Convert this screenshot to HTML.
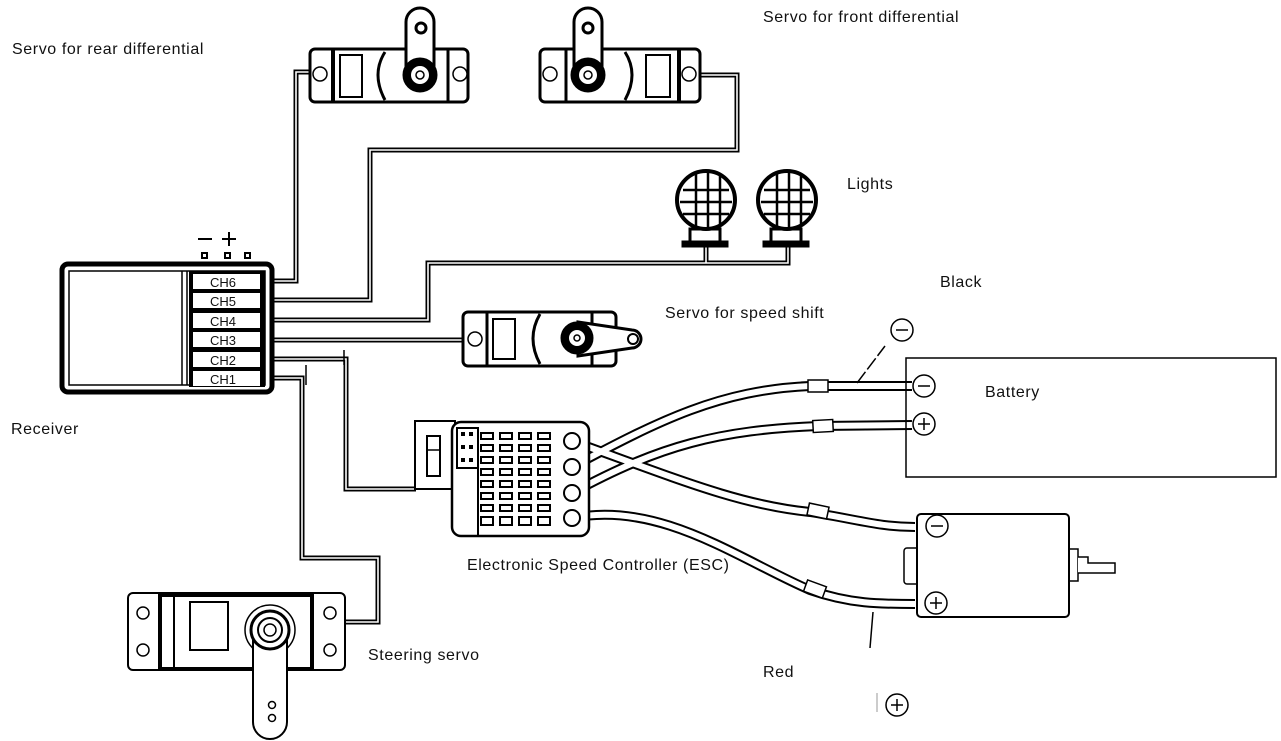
<!DOCTYPE html>
<html><head><meta charset="utf-8"><style>
html,body{margin:0;padding:0;background:#fff;}
svg{display:block;}
text{font-family:"Liberation Sans",sans-serif;font-size:16px;letter-spacing:0.6px;fill:#111;}
</style></head><body>
<svg width="1281" height="741" viewBox="0 0 1281 741" xmlns="http://www.w3.org/2000/svg">
<!-- Labels -->
<text x="12" y="54">Servo for rear differential</text>
<text x="763" y="22">Servo for front differential</text>
<text x="847" y="189">Lights</text>
<text x="940" y="287">Black</text>
<text x="665" y="318">Servo for speed shift</text>
<text x="985" y="397">Battery</text>
<text x="11" y="434">Receiver</text>
<text x="467" y="570">Electronic Speed Controller (ESC)</text>
<text x="966" y="571" style="font-weight:bold;font-style:italic;letter-spacing:0">Motor</text>
<text x="368" y="660">Steering servo</text>
<text x="763" y="677">Red</text>

<!-- Signal wires (double lines) -->
<g fill="none" stroke-linejoin="miter">
<g stroke="#000" stroke-width="5">
<polyline points="262,281 296,281 296,72 318,72"/>
<polyline points="262,300 370,300 370,150 737,150 737,75 692,75"/>
<polyline points="262,320 428,320 428,263 788,263 788,242"/>
<polyline points="706,263 706,246"/>
<polyline points="262,340 482,340"/>
<polyline points="262,359 346,359 346,489 416,489"/>
<polyline points="262,378 302,378 302,558 378,558 378,622 346,622"/>
</g>
<g stroke="#fff" stroke-width="1.6">
<polyline points="262,281 296,281 296,72 318,72"/>
<polyline points="262,300 370,300 370,150 737,150 737,75 692,75"/>
<polyline points="262,320 428,320 428,263 788,263 788,242"/>
<polyline points="706,263 706,246"/>
<polyline points="262,340 482,340"/>
<polyline points="262,359 346,359 346,489 416,489"/>
<polyline points="262,378 302,378 302,558 378,558 378,622 346,622"/>
</g>
<line x1="344" y1="350" x2="344" y2="365" stroke="#000" stroke-width="1.5"/>
<line x1="306" y1="365" x2="306" y2="385" stroke="#000" stroke-width="1.5"/>
</g>

<!-- Receiver -->
<rect x="62" y="264" width="210" height="128" rx="6" fill="#fff" stroke="#000" stroke-width="5"/>
<rect x="69" y="271" width="196" height="114" fill="none" stroke="#000" stroke-width="1.5"/>
<line x1="182" y1="271" x2="182" y2="385" stroke="#000" stroke-width="1.5"/>
<line x1="187" y1="271" x2="187" y2="385" stroke="#000" stroke-width="1.5"/>
<rect x="189" y="271" width="76" height="116" fill="#000"/>
<g>
<rect x="193" y="274" width="67" height="15" fill="#fff"/><text x="210" y="287" style="font-size:13px;letter-spacing:0">CH6</text>
<rect x="193" y="293" width="67" height="15" fill="#fff"/><text x="210" y="306" style="font-size:13px;letter-spacing:0">CH5</text>
<rect x="193" y="313" width="67" height="15" fill="#fff"/><text x="210" y="326" style="font-size:13px;letter-spacing:0">CH4</text>
<rect x="193" y="332" width="67" height="15" fill="#fff"/><text x="210" y="345" style="font-size:13px;letter-spacing:0">CH3</text>
<rect x="193" y="352" width="67" height="15" fill="#fff"/><text x="210" y="365" style="font-size:13px;letter-spacing:0">CH2</text>
<rect x="193" y="371" width="67" height="15" fill="#fff"/><text x="210" y="384" style="font-size:13px;letter-spacing:0">CH1</text>
</g>
<line x1="198" y1="239" x2="212" y2="239" stroke="#000" stroke-width="2"/>
<line x1="222" y1="239" x2="236" y2="239" stroke="#000" stroke-width="2"/>
<line x1="229" y1="232" x2="229" y2="246" stroke="#000" stroke-width="2"/>
<rect x="202" y="253" width="5" height="5" fill="none" stroke="#000" stroke-width="2"/>
<rect x="225" y="253" width="5" height="5" fill="none" stroke="#000" stroke-width="2"/>
<rect x="245" y="253" width="5" height="5" fill="none" stroke="#000" stroke-width="2"/>

<!-- Rear servo -->
<g stroke="#000" fill="#fff">
<rect x="310" y="49" width="158" height="53" rx="5" stroke-width="3"/>
<line x1="333" y1="49" x2="333" y2="102" stroke-width="4"/>
<line x1="448" y1="49" x2="448" y2="102" stroke-width="3"/>
<rect x="340" y="55" width="22" height="42" stroke-width="2"/>
<path d="M385,52 q-14,22 0,48" fill="none" stroke-width="3"/>
<path d="M406,78 L406,22 a14,14 0 0 1 28,0 L434,78 Z" stroke-width="3"/>
<circle cx="420" cy="75" r="17" fill="#000"/>
<circle cx="420" cy="75" r="10" fill="#fff" stroke-width="2"/>
<circle cx="420" cy="75" r="4" fill="#fff" stroke-width="1.5"/>
<circle cx="421" cy="28" r="5" stroke-width="3"/>
<circle cx="320" cy="74" r="7" stroke-width="1.5"/>
<circle cx="460" cy="74" r="7" stroke-width="1.5"/>
</g>
<!-- Front servo -->
<g stroke="#000" fill="#fff">
<rect x="540" y="49" width="160" height="53" rx="5" stroke-width="3"/>
<line x1="566" y1="49" x2="566" y2="102" stroke-width="3"/>
<line x1="679" y1="49" x2="679" y2="102" stroke-width="4"/>
<rect x="646" y="55" width="24" height="42" stroke-width="2"/>
<path d="M625,52 q14,22 0,48" fill="none" stroke-width="3"/>
<path d="M574,78 L574,22 a14,14 0 0 1 28,0 L602,78 Z" stroke-width="3"/>
<circle cx="588" cy="75" r="17" fill="#000"/>
<circle cx="588" cy="75" r="10" fill="#fff" stroke-width="2"/>
<circle cx="588" cy="75" r="4" fill="#fff" stroke-width="1.5"/>
<circle cx="588" cy="28" r="5" stroke-width="3"/>
<circle cx="550" cy="74" r="7" stroke-width="1.5"/>
<circle cx="689" cy="74" r="7" stroke-width="1.5"/>
</g>

<!-- Lights -->
<g stroke="#000" fill="#fff">
<rect x="690" y="229" width="30" height="14" stroke-width="3"/>
<rect x="682" y="241" width="46" height="6" fill="#000" stroke-width="1"/>
<circle cx="706" cy="200" r="29" stroke-width="4"/>
<g stroke-width="2.5"><line x1="683" y1="190" x2="729" y2="190"/><line x1="680" y1="202" x2="732" y2="202"/><line x1="683" y1="214" x2="729" y2="214"/><line x1="696" y1="174" x2="696" y2="226"/><line x1="708" y1="172" x2="708" y2="228"/><line x1="720" y1="176" x2="720" y2="224"/></g>
<rect x="771" y="229" width="30" height="14" stroke-width="3"/>
<rect x="763" y="241" width="46" height="6" fill="#000" stroke-width="1"/>
<circle cx="787" cy="200" r="29" stroke-width="4"/>
<g stroke-width="2.5"><line x1="764" y1="190" x2="810" y2="190"/><line x1="761" y1="202" x2="813" y2="202"/><line x1="764" y1="214" x2="810" y2="214"/><line x1="777" y1="174" x2="777" y2="226"/><line x1="789" y1="172" x2="789" y2="228"/><line x1="801" y1="176" x2="801" y2="224"/></g>
</g>

<!-- Speed shift servo -->
<g stroke="#000" fill="#fff">
<rect x="463" y="312" width="153" height="54" rx="5" stroke-width="3"/>
<line x1="487" y1="312" x2="487" y2="366" stroke-width="3"/>
<line x1="592" y1="312" x2="592" y2="366" stroke-width="3"/>
<rect x="493" y="319" width="22" height="40" stroke-width="2"/>
<path d="M540,314 q-14,24 0,50" fill="none" stroke-width="3"/>
<path d="M578,322 L632,330 a9,9 0 0 1 0,18 L578,356 Z" stroke-width="3"/>
<circle cx="577" cy="338" r="16" fill="#000"/>
<circle cx="577" cy="338" r="9" fill="#fff" stroke-width="2"/>
<circle cx="577" cy="338" r="3" fill="#fff" stroke-width="1.5"/>
<circle cx="633" cy="339" r="5" stroke-width="2"/>
<circle cx="475" cy="339" r="7" stroke-width="1.5"/>
</g>

<!-- Steering servo -->
<g stroke="#000" fill="#fff">
<rect x="128" y="593" width="217" height="77" rx="5" stroke-width="2"/>
<rect x="160" y="595" width="152" height="74" stroke-width="4"/>
<line x1="174" y1="595" x2="174" y2="669" stroke-width="2"/>
<rect x="190" y="602" width="38" height="48" stroke-width="2"/>
<circle cx="143" cy="613" r="6" stroke-width="1.5"/><circle cx="143" cy="650" r="6" stroke-width="1.5"/>
<circle cx="330" cy="613" r="6" stroke-width="1.5"/><circle cx="330" cy="650" r="6" stroke-width="1.5"/>
<circle cx="270" cy="630" r="25" stroke-width="1.5"/>
<path d="M253,640 L253,722 a17,17 0 0 0 34,0 L287,640" stroke-width="2"/>
<circle cx="270" cy="630" r="19" stroke-width="3"/>
<circle cx="270" cy="630" r="12" stroke-width="2"/>
<circle cx="270" cy="630" r="6" stroke-width="1.5"/>
<circle cx="272" cy="705" r="3.5" stroke-width="1.5"/>
<circle cx="272" cy="718" r="3.5" stroke-width="1.5"/>
</g>

<!-- Power wires -->
<g fill="none">
<g stroke="#000" stroke-width="10">
<path d="M572,441 C680,480 740,505 810,512 C860,520 880,527 915,527"/>
<path d="M572,467 C660,420 720,390 810,386 L912,386"/>
<path d="M572,493 C660,445 720,430 818,426 L912,425"/>
<path d="M572,518 C660,500 740,560 810,590 C850,604 880,604 915,604"/>
</g>
<g stroke="#fff" stroke-width="6">
<path d="M572,441 C680,480 740,505 810,512 C860,520 880,527 915,527"/>
<path d="M572,467 C660,420 720,390 810,386 L912,386"/>
<path d="M572,493 C660,445 720,430 818,426 L912,425"/>
<path d="M572,518 C660,500 740,560 810,590 C850,604 880,604 915,604"/>
</g>
</g>
<g fill="#fff" stroke="#000" stroke-width="1.5">
<rect x="808" y="380" width="20" height="12"/>
<rect x="813" y="420" width="20" height="12" transform="rotate(-3 823 426)"/>
<rect x="808" y="505" width="20" height="12" transform="rotate(12 818 511)"/>
<rect x="805" y="583" width="20" height="12" transform="rotate(20 815 589)"/>
</g>

<!-- ESC -->
<g stroke="#000" fill="#fff">
<rect x="415" y="421" width="40" height="68" stroke-width="2"/>
<rect x="427" y="436" width="13" height="40" stroke-width="2"/>
<line x1="427" y1="450" x2="440" y2="450" stroke-width="1.5"/>
<rect x="452" y="422" width="137" height="114" rx="9" stroke-width="2.5"/>
<rect x="457" y="428" width="21" height="40" stroke-width="2"/>
<line x1="478" y1="428" x2="478" y2="536" stroke-width="2"/>
</g>
<g fill="#000">
<rect x="461" y="432" width="4" height="4"/><rect x="469" y="432" width="4" height="4"/>
<rect x="461" y="445" width="4" height="4"/><rect x="469" y="445" width="4" height="4"/>
<rect x="461" y="458" width="4" height="4"/><rect x="469" y="458" width="4" height="4"/>
</g>
<g fill="#fff" stroke="#000" stroke-width="2">
<rect x="481" y="433" width="12" height="6"/><rect x="500" y="433" width="12" height="6"/><rect x="519" y="433" width="12" height="6"/><rect x="538" y="433" width="12" height="6"/>
<rect x="481" y="445" width="12" height="6"/><rect x="500" y="445" width="12" height="6"/><rect x="519" y="445" width="12" height="6"/><rect x="538" y="445" width="12" height="6"/>
<rect x="481" y="457" width="12" height="6"/><rect x="500" y="457" width="12" height="6"/><rect x="519" y="457" width="12" height="6"/><rect x="538" y="457" width="12" height="6"/>
<rect x="481" y="469" width="12" height="6"/><rect x="500" y="469" width="12" height="6"/><rect x="519" y="469" width="12" height="6"/><rect x="538" y="469" width="12" height="6"/>
<rect x="481" y="481" width="12" height="6"/><rect x="500" y="481" width="12" height="6"/><rect x="519" y="481" width="12" height="6"/><rect x="538" y="481" width="12" height="6"/>
<rect x="481" y="493" width="12" height="6"/><rect x="500" y="493" width="12" height="6"/><rect x="519" y="493" width="12" height="6"/><rect x="538" y="493" width="12" height="6"/>
<rect x="481" y="505" width="12" height="6"/><rect x="500" y="505" width="12" height="6"/><rect x="519" y="505" width="12" height="6"/><rect x="538" y="505" width="12" height="6"/>
<rect x="481" y="517" width="12" height="8"/><rect x="500" y="517" width="12" height="8"/><rect x="519" y="517" width="12" height="8"/><rect x="538" y="517" width="12" height="8"/>
<circle cx="572" cy="441" r="8"/><circle cx="572" cy="467" r="8"/><circle cx="572" cy="493" r="8"/><circle cx="572" cy="518" r="8"/>
</g>

<!-- Battery -->
<rect x="906" y="358" width="370" height="119" fill="none" stroke="#000" stroke-width="1.5"/>
<g fill="#fff" stroke="#000" stroke-width="1.5">
<circle cx="924" cy="386" r="11"/><line x1="918" y1="386" x2="930" y2="386"/>
<circle cx="924" cy="424" r="11"/><line x1="918" y1="424" x2="930" y2="424"/><line x1="924" y1="418" x2="924" y2="430"/>
</g>

<!-- Motor -->
<g fill="#fff" stroke="#000">
<rect x="904" y="548" width="16" height="36" rx="3" stroke-width="1.5"/>
<rect x="1068" y="549" width="10" height="32" stroke-width="1.5"/>
<path d="M1078,557 L1088,557 L1088,563 L1115,563 L1115,573 L1078,573" stroke-width="1.5"/>
<rect x="917" y="514" width="152" height="103" rx="4" stroke-width="2"/>
<circle cx="937" cy="526" r="11" stroke-width="1.5"/><line x1="931" y1="526" x2="943" y2="526" stroke-width="1.5"/>
<circle cx="936" cy="603" r="11" stroke-width="1.5"/><line x1="930" y1="603" x2="942" y2="603" stroke-width="1.5"/><line x1="936" y1="597" x2="936" y2="609" stroke-width="1.5"/>
</g>

<!-- Leaders and symbols -->
<line x1="857" y1="383" x2="885" y2="346" stroke="#000" stroke-width="1.5" stroke-dasharray="14,3"/>
<g fill="#fff" stroke="#000" stroke-width="1.5">
<circle cx="902" cy="330" r="11"/><line x1="896" y1="330" x2="908" y2="330"/>
<circle cx="897" cy="705" r="11"/><line x1="891" y1="705" x2="903" y2="705"/><line x1="897" y1="699" x2="897" y2="711"/>
</g>
<line x1="873" y1="612" x2="870" y2="648" stroke="#000" stroke-width="1.5"/>
<line x1="877" y1="693" x2="877" y2="712" stroke="#999" stroke-width="1"/>
</svg>
</body></html>
